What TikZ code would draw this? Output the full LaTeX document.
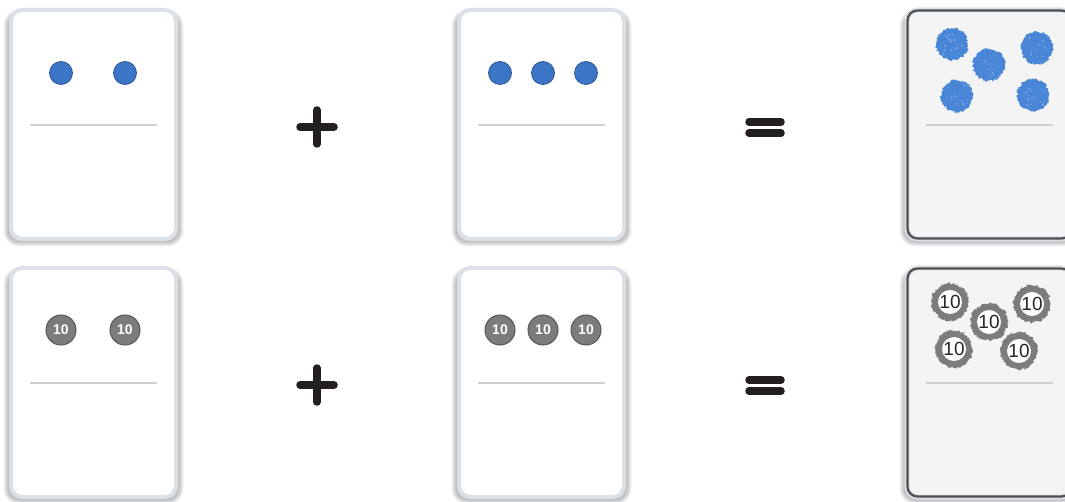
\documentclass[tikz,border=0pt]{standalone}
\usepackage{fontspec}
\setsansfont{Liberation Sans}
\usetikzlibrary{decorations.pathmorphing}

\definecolor{cardedge}{HTML}{DCE1E7}
\definecolor{darkedge}{HTML}{4F4F4F}
\definecolor{sumfill}{HTML}{F4F4F4}
\definecolor{dotblue}{HTML}{3C74C6}
\definecolor{fuzzblue}{HTML}{4A86D8}
\definecolor{coingray}{HTML}{7C7C7C}
\definecolor{ruleline}{HTML}{CFCFCF}
\definecolor{signink}{HTML}{231F20}

\tikzset{
    card/.style={rectangle, rounded corners=11pt, minimum width=165pt, minimum height=229pt,
        fill=white, draw=cardedge, line width=4pt},
    sumcard/.style={card, fill=sumfill, draw=cardedge, line width=5pt},
    dot/.style={circle, inner sep=0pt, minimum size=23pt, fill=dotblue, draw=dotblue!75!black, line width=0.8pt},
    coin/.style={circle, inner sep=0pt, minimum size=30pt, fill=coingray, draw=coingray!70!black, line width=1pt,
        text=white, font=\sffamily\bfseries\fontsize{14}{14}\selectfont},
    fuzz/.style={decorate, decoration={random steps, segment length=1.2pt, amplitude=1.3pt}},
    sign/.style={draw=signink, line width=7.5pt, line cap=round},
    rule/.style={draw=ruleline, line width=1.5pt}
}

\begin{document}
\begin{tikzpicture}[x=1pt, y=-1pt]
    \pgfmathsetmacro{\dummy}{0}
    \pgfmathsetseed{42}
    \clip (0,0) rectangle (1065,502);
    \fill[white] (0,0) rectangle (1065,502);

    % shadows
    \foreach \cx/\cy in {93.5/124.5, 541.5/124.5, 989.5/124.5, 93.5/382.5, 541.5/382.5, 989.5/382.5} {
        \foreach \k in {0,...,4} {
            \fill[black, opacity=0.05, rounded corners=12pt+\k pt]
                (\cx-86-\k,\cy-114-\k+3) rectangle (\cx+86+\k,\cy+116+\k+2);
        }
    }

    % cards
    \begin{scope}
        \node[card] (a1) at (93.5,124.5) {};
        \node[card] (a2) at (541.5,124.5) {};
        \node[sumcard] (a3) at (989.5,124.5) {};
        \node[card] (b1) at (93.5,382.5) {};
        \node[card] (b2) at (541.5,382.5) {};
        \node[sumcard] (b3) at (989.5,382.5) {};
        \draw[darkedge, line width=2.2pt, rounded corners=10pt]
            (907.5,10.5) rectangle (1071.5,238.5)
            (907.5,268.5) rectangle (1071.5,496.5);
    \end{scope}

    % lines
    \begin{scope}
        \path[rule] (30,125) -- (157,125) (478,125) -- (605,125) (926,125) -- (1053,125);
        \path[rule] (30,383) -- (157,383) (478,383) -- (605,383) (926,383) -- (1053,383);
    \end{scope}

    % ones
    \begin{scope}
        \node[dot] (d1) at (61,73) {};
        \node[dot] (d2) at (125,73) {};
        \node[dot] (d3) at (500,73) {};
        \node[dot] (d4) at (543,73) {};
        \node[dot] (d5) at (586,73) {};
        \foreach \x/\y in {952/44, 989/65, 1037/48, 957/96, 1033/95} {
            \fill[fuzzblue, fuzz] (\x,\y) circle (16);
            \foreach \k in {1,...,14} {
                \fill[white, opacity=0.35] (\x+11*rand,\y+11*rand) circle (0.5+0.6*rnd);
            }
        }
    \end{scope}

    % tens
    \begin{scope}
        \node[coin] (t1) at (61,330) {10};
        \node[coin] (t2) at (125,330) {10};
        \node[coin] (t3) at (500,330) {10};
        \node[coin] (t4) at (543,330) {10};
        \node[coin] (t5) at (586,330) {10};
        \foreach \x/\y [count=\i] in {950/302, 989/322, 1032/304, 954/349, 1019/351} {
            \fill[coingray, fuzz] (\x,\y) circle (18.5);
            \fill[white] (\x,\y) circle (12);
            \node[font=\sffamily\fontsize{19}{19}\selectfont, inner sep=0pt, text=black!85] (s\i) at (\x,\y) {10};
        }
    \end{scope}

    % signs
    \begin{scope}
        \path[sign] (300,127) -- (334,127) (317,110) -- (317,144);
        \path[sign] (300,385) -- (334,385) (317,368) -- (317,402);
        \path[sign] (749,122) -- (781,122) (749,133) -- (781,133);
        \path[sign] (749,380) -- (781,380) (749,391) -- (781,391);
    \end{scope}
\end{tikzpicture}
\end{document}
